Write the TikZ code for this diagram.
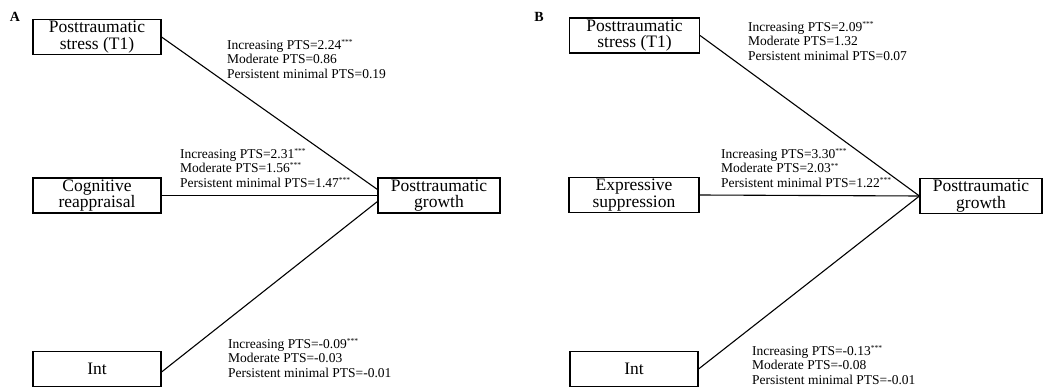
\documentclass[tikz,border=0pt]{standalone}
\usepackage{fontspec}
\setmainfont{Liberation Serif}
\usepackage{tikz}
\usetikzlibrary{positioning, calc}

\newcommand{\sig}[1]{\smash{\raisebox{0.75ex}{\fontsize{7.5}{8}\selectfont #1}}}

\begin{document}
\begin{tikzpicture}[x=1pt, y=-1pt,
    var/.style={draw, line width=1.1pt, minimum width=128pt, minimum height=35pt,
        inner sep=0pt, align=center, font=\fontsize{17.5}{16.5}\selectfont},
    coef/.style={anchor=north west, inner sep=0pt, align=left,
        font=\fontsize{13.5}{14.5}\selectfont},
    panel/.style={font=\bfseries\fontsize{14}{14}\selectfont},
    link/.style={line width=1.1pt}
]
    \useasboundingbox (0,0) rectangle (1043,390);

    % Panel A
    \node[panel] (labA) at (15,17) {A};
    \node[var] (stressA) at (97,37) {Posttraumatic\\stress (T1)};
    \node[var] (cogA) at (97,195.5) {Cognitive\\reappraisal};
    \node[var] (intA) at (97,369) {Int};
    \node[var, minimum width=122pt] (growthA) at (439,195.5) {Posttraumatic\\growth};

    \draw[link] (stressA.east) -- ([yshift=6pt]growthA.west);
    \draw[link] (cogA.east) -- (growthA.west);
    \draw[link] ([yshift=-3pt]intA.east) -- ([yshift=-6pt]growthA.west);

    \node[coef] (cStressA) at (227,40) {Increasing PTS=2.24\sig{***}\\Moderate PTS=0.86\\Persistent minimal PTS=0.19};
    \node[coef] (cCogA) at (180,149) {Increasing PTS=2.31\sig{***}\\Moderate PTS=1.56\sig{***}\\Persistent minimal PTS=1.47\sig{***}};
    \node[coef] (cIntA) at (228,339) {Increasing PTS=-0.09\sig{***}\\Moderate PTS=-0.03\\Persistent minimal PTS=-0.01};

    % Panel B
    \node[panel] (labB) at (539,17) {B};
    \node[var, minimum width=130pt] (stressB) at (634.5,35.5) {Posttraumatic\\stress (T1)};
    \node[var, minimum width=130pt] (supB) at (634,195) {Expressive\\suppression};
    \node[var] (intB) at (634,369) {Int};
    \node[var, minimum width=122pt] (growthB) at (981,196) {Posttraumatic\\growth};

    \draw[link] (stressB.east) -- (growthB.west);
    \draw[link] (supB.east) -- (growthB.west);
    \draw[link] (intB.east) -- (growthB.west);

    \node[coef] (cStressB) at (748,22) {Increasing PTS=2.09\sig{***}\\Moderate PTS=1.32\\Persistent minimal PTS=0.07};
    \node[coef] (cSupB) at (721,149) {Increasing PTS=3.30\sig{***}\\Moderate PTS=2.03\sig{**}\\Persistent minimal PTS=1.22\sig{***}};
    \node[coef] (cIntB) at (752,346) {Increasing PTS=-0.13\sig{***}\\Moderate PTS=-0.08\\Persistent minimal PTS=-0.01};

\end{tikzpicture}
\end{document}
